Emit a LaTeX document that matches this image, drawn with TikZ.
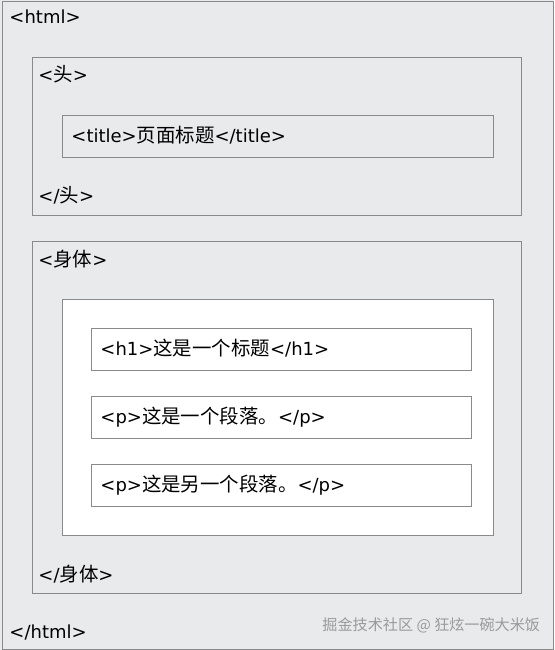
\documentclass[tikz,border=0pt]{standalone}
\usepackage{fontspec}
\setmainfont{DejaVu Sans}
\newfontfamily\cjk[Scale=1.08]{Noto Sans CJK SC}
\usepackage{tikz}
\usetikzlibrary{positioning, calc}

\definecolor{pagebg}{HTML}{E9EAEC}
\definecolor{boxline}{HTML}{8A8A8A}
\definecolor{markgray}{HTML}{9A9A9A}

\begin{document}
\begin{tikzpicture}[x=1pt, y=-1pt, line width=0.9pt]
	\fontsize{18}{21}\selectfont
	\def \outerx{9}
	\def \innerx{38}
	\tikzstyle{tag-node}=[anchor=west, inner sep=0pt, text height=13pt, text depth=4pt]
	\tikzstyle{frame}=[draw=boxline, fill=pagebg]
	\tikzstyle{whiteframe}=[draw=boxline, fill=white]
	\useasboundingbox (0,0) rectangle (554,650);
	\fill[pagebg] (0,0) rectangle (554,650);
	\draw[boxline] (2,1) rectangle (553,649);
	% head
	\draw[frame] (32,57) rectangle (521,215);
	\draw[frame] (62,115) rectangle (493,157);
	% body
	\draw[frame] (32,241) rectangle (521,593);
	\draw[whiteframe] (62,299) rectangle (493,535);
	\draw[whiteframe] (91,328) rectangle (471,370);
	\draw[whiteframe] (91,396) rectangle (471,438);
	\draw[whiteframe] (91,464) rectangle (471,506);
	\node[tag-node] 	(htmlopen)	at (\outerx,19)		{<html>};
	\node[tag-node] 	(headopen)	at (\innerx,77)		{<{\cjk 头}>};
	\node[tag-node] 	(title)	at (71,138)		{<title>{\cjk 页面标题}</title>};
	\node[tag-node] 	(headclose)	at (\innerx,198)		{</{\cjk 头}>};
	\node[tag-node] 	(bodyopen)	at (\innerx,262)		{<{\cjk 身体}>};
	\node[tag-node] 	(hone)	at (100,351)		{<h1>{\cjk 这是一个标题}</h1>};
	\node[tag-node] 	(pone)	at (100,419)		{<p>{\cjk 这是一个段落。}</p>};
	\node[tag-node] 	(ptwo)	at (100,487)		{<p>{\cjk 这是另一个段落。}</p>};
	\node[tag-node] 	(bodyclose)	at (\innerx,577)		{</{\cjk 身体}>};
	\node[tag-node] 	(htmlclose)	at (\outerx,634)		{</html>};
	%\node watermark
	\node[tag-node, text=markgray, font=\cjk\fontsize{14}{16}\selectfont] 	(mark)	at (322,626)		{掘金技术社区 @ 狂炫一碗大米饭};
\end{tikzpicture}
\end{document}
